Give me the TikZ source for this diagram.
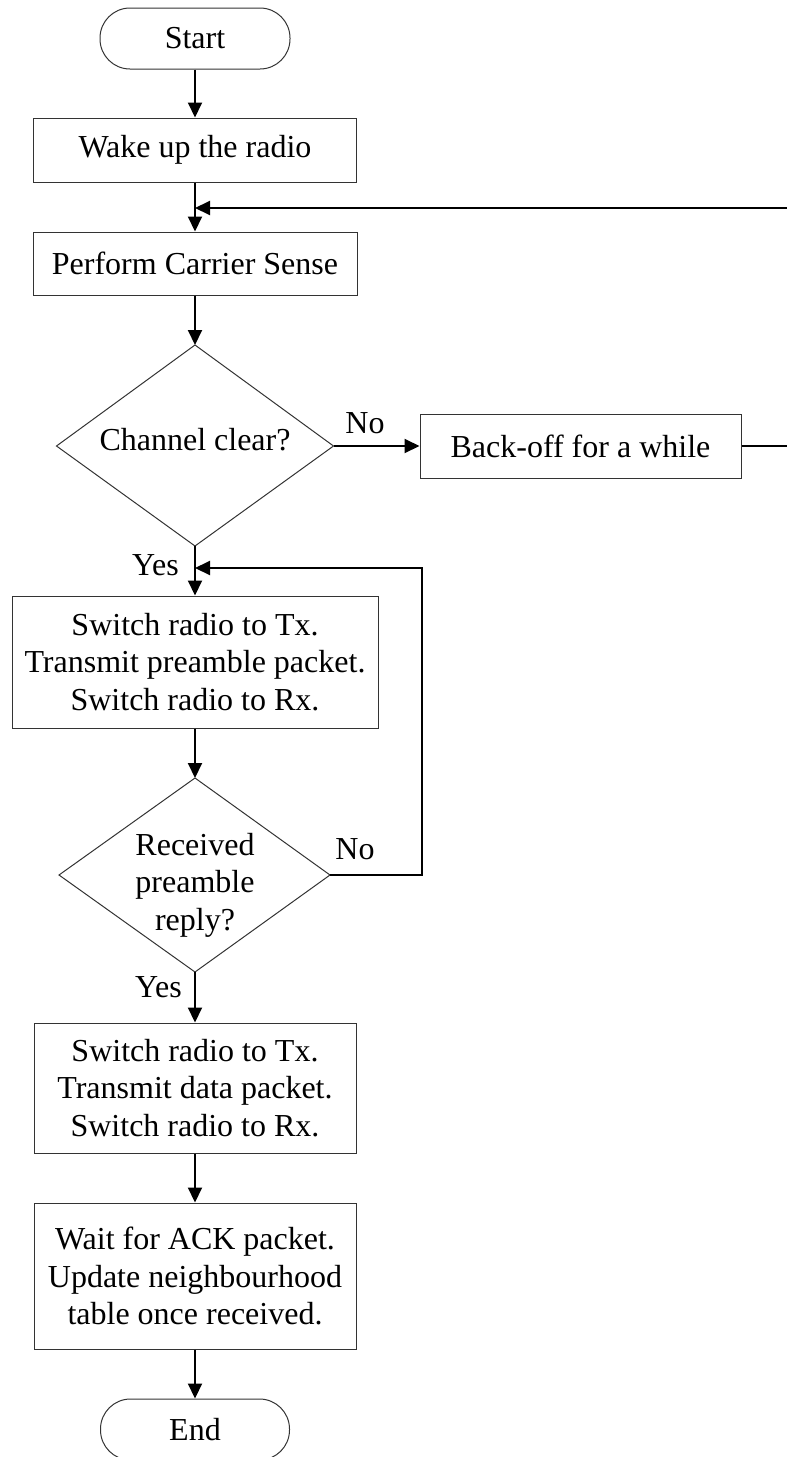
\documentclass[tikz,border=0pt]{standalone}
\usepackage{fontspec}
\setmainfont{Liberation Serif}
\usetikzlibrary{arrows.meta,calc}
\begin{document}
\begin{tikzpicture}[x=1pt,y=-1pt,
  every node/.style={font=\fontsize{32}{37.5}\selectfont, inner sep=0pt},
  boxnode/.style={draw=black!80, line width=1pt, rectangle, align=center},
  termnode/.style={draw=black!80, line width=1pt, rectangle, rounded corners=30pt, align=center},
  outline/.style={draw=black!80, line width=1pt},
  flow/.style={line width=2pt, -{Triangle[length=15pt,width=14pt]}},
  plainline/.style={line width=2pt}]
\useasboundingbox (0,0) rectangle (787,1457);
\clip (0,0) rectangle (787,1457);

% terminals and boxes
\node[termnode, minimum width=190pt, minimum height=61pt] (start) at (195,38.5) {Start};
\node[boxnode, minimum width=323pt, minimum height=64pt] (wake) at (195,150) {Wake up the radio};
\node[boxnode, minimum width=324pt, minimum height=63pt] (cs) at (195,263.5) {Perform Carrier Sense};
\node[boxnode, minimum width=321pt, minimum height=64pt] (bo) at (580.5,446) {Back-off for a while};
\node[boxnode, minimum width=366pt, minimum height=132pt] (tx1) at (195,662) {Switch radio to Tx.\\Transmit preamble packet.\\Switch radio to Rx.};
\node[boxnode, minimum width=322pt, minimum height=130pt] (tx2) at (195,1088) {Switch radio to Tx.\\Transmit data packet.\\Switch radio to Rx.};
\node[boxnode, minimum width=322pt, minimum height=146pt] (ack) at (195,1276) {Wait for ACK packet.\\Update neighbourhood\\table once received.};
\node[termnode, minimum width=189pt, minimum height=61pt] (end) at (195,1429.5) {End};

% decision 1
\coordinate (d1n) at (195,345);
\coordinate (d1e) at (333.5,446);
\coordinate (d1s) at (195,546);
\coordinate (d1w) at (56.5,446);
\draw[outline] (d1n) -- (d1e) -- (d1s) -- (d1w) -- cycle;
\node (d1) at (195,440) {Channel clear?};

% decision 2
\coordinate (d2n) at (195,778);
\coordinate (d2e) at (330,875);
\coordinate (d2s) at (195,972);
\coordinate (d2w) at (59,875);
\draw[outline] (d2n) -- (d2e) -- (d2s) -- (d2w) -- cycle;
\node[align=center] (d2) at (195,885) {Received\\preamble\\reply?};

% main flow
\draw[flow] (start.south) -- (wake.north);
\draw[flow] (wake.south) -- (cs.north);
\draw[flow] (cs.south) -- (d1n);
\draw[flow] (d1e) -- (bo.west);
\draw[flow] (d1s) -- (tx1.north);
\draw[flow] (tx1.south) -- (d2n);
\draw[flow] (d2s) -- (tx2.north);
\draw[flow] (tx2.south) -- (ack.north);
\draw[flow] (ack.south) -- (end.north);

% feedback loops
\coordinate (r1) at (800,446);
\coordinate (j1) at (195,208);
\draw[flow] (bo.east) -- (r1) |- (j1);
\coordinate (r2) at (422,875);
\coordinate (j2) at (195,568);
\draw[flow] (d2e) -- (r2) |- (j2);

% labels
\node (no1) at (365,423) {No};
\node (no2) at (355,849) {No};
\node[anchor=east] (yes1) at (179,565) {Yes};
\node[anchor=east] (yes2) at (182,987) {Yes};
\end{tikzpicture}
\end{document}
